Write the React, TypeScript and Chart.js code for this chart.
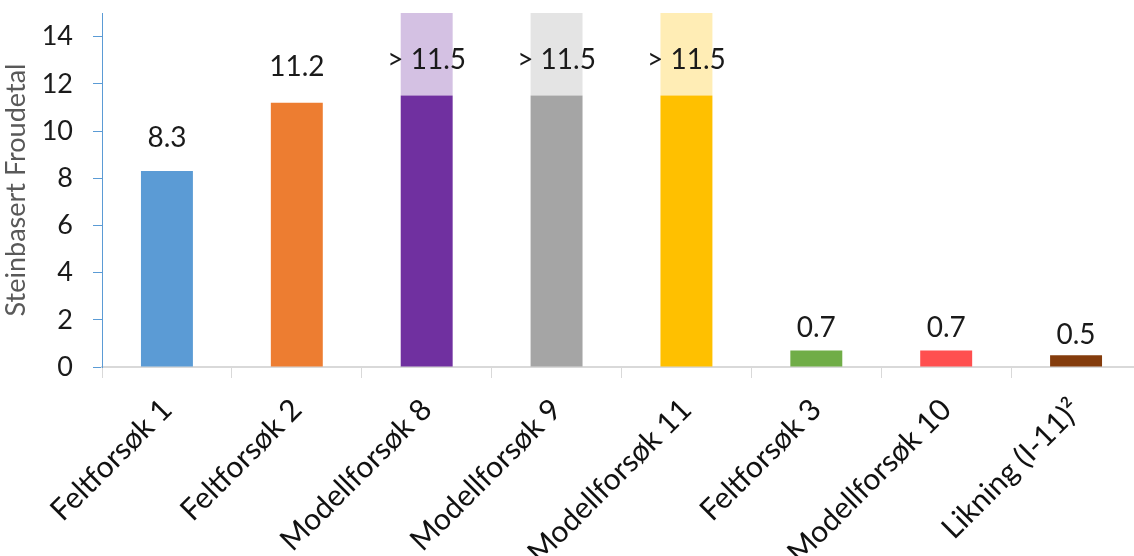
import React, { useEffect, useRef } from "react";
import { Chart, registerables } from "chart.js";

Chart.register(...registerables);

const categories = [
  "Feltforsøk 1",
  "Feltforsøk 2",
  "Modellforsøk 8",
  "Modellforsøk 9",
  "Modellforsøk 11",
  "Feltforsøk 3",
  "Modellforsøk 10",
  "Likning (I-11)²",
];
const values = [8.3, 11.2, 11.5, 11.5, 11.5, 0.7, 0.7, 0.5];
const isLowerBound = [false, false, true, true, true, false, false, false];
const yTicks = [0, 2, 4, 6, 8, 10, 12, 14];
const yMax = 15;
const yTitle = "Steinbasert Froudetal";

const barColors = ["#5B9BD5", "#ED7D31", "#7030A0", "#A5A5A5", "#FFC000", "#70AD47", "#FF4F4F", "#843C0C"];
const lightColors = ["#5B9BD5", "#ED7D31", "#D4C1E3", "#E4E4E4", "#FFEDB5", "#70AD47", "#FF4F4F", "#843C0C"];
const labelGap = [33, 36, 36, 36, 36, 23, 23, 20];

const FONT = "Lato, 'Open Sans', sans-serif";

const valueLabelPlugin = {
  id: "valueLabels",
  afterDatasetsDraw(chart: any) {
    const meta = chart.getDatasetMeta(0);
    const ctx = chart.ctx;
    ctx.save();
    ctx.font = `28px ${FONT}`;
    ctx.fillStyle = "#1a1a1a";
    ctx.textAlign = "center";
    ctx.textBaseline = "middle";
    meta.data.forEach((bar: any, i: number) => {
      const txt = (isLowerBound[i] ? "> " : "") + values[i].toFixed(1);
      ctx.fillText(txt, bar.x, bar.y - labelGap[i]);
    });
    ctx.restore();
  },
};

export default function App() {
  const ref = useRef<HTMLCanvasElement | null>(null);
  useEffect(() => {
    if (!ref.current) return;
    const ext = values.map((v, i) => (isLowerBound[i] ? yMax - v : null));
    const chart = new Chart(ref.current, {
      type: "bar",
      data: {
        labels: categories,
        datasets: [
          { data: values, backgroundColor: barColors, borderWidth: 0 },
          { data: ext as any, backgroundColor: lightColors, borderWidth: 0 },
        ],
      },
      options: {
        animation: false,
        responsive: true,
        maintainAspectRatio: false,
        layout: { padding: { top: 13, left: 0, right: 0, bottom: 0 } },
        datasets: { bar: { barPercentage: 0.4, categoryPercentage: 1 } },
        plugins: { legend: { display: false }, tooltip: { enabled: false } },
        scales: {
          x: {
            stacked: true,
            offset: true,
            border: { color: "#D9D9D9", width: 2 },
            grid: {
              display: true,
              offset: true,
              drawOnChartArea: false,
              drawTicks: true,
              tickLength: 11,
              color: "#D9D9D9",
              lineWidth: 1,
            },
            ticks: {
              maxRotation: 45,
              minRotation: 45,
              autoSkip: false,
              color: "#111",
              font: { family: FONT, size: 30 },
              padding: 14,
            },
            afterFit: (s: any) => {
              s.height = 189;
              s.paddingLeft = 0;
              s.paddingRight = 0;
            },
          },
          y: {
            stacked: true,
            min: 0,
            max: yMax,
            border: { color: "#5B9BD5", width: 1 },
            grid: {
              display: true,
              drawOnChartArea: false,
              drawTicks: true,
              tickLength: 9,
              color: "#5B9BD5",
            },
            ticks: {
              stepSize: 2,
              color: "#1a1a1a",
              font: { family: FONT, size: 27 },
              padding: 20,
            },
            afterBuildTicks: (axis: any) => {
              axis.ticks = yTicks.map((v) => ({ value: v }));
            },
            title: {
              display: true,
              text: yTitle,
              color: "#595959",
              font: { family: FONT, size: 27 },
              padding: { top: 0, bottom: 0 },
            },
            afterFit: (s: any) => {
              s.width = 102;
              s.paddingTop = 0;
              s.paddingBottom = 0;
            },
          },
        },
      },
      plugins: [valueLabelPlugin],
    });
    return () => chart.destroy();
  }, []);

  return (
    <div style={{ position: "fixed", left: 0, top: 0, width: 1134, height: 556, overflow: "hidden", background: "#fff" }}>
      <div style={{ position: "relative", width: 1141, height: 556 }}>
        <canvas ref={ref} />
      </div>
    </div>
  );
}
